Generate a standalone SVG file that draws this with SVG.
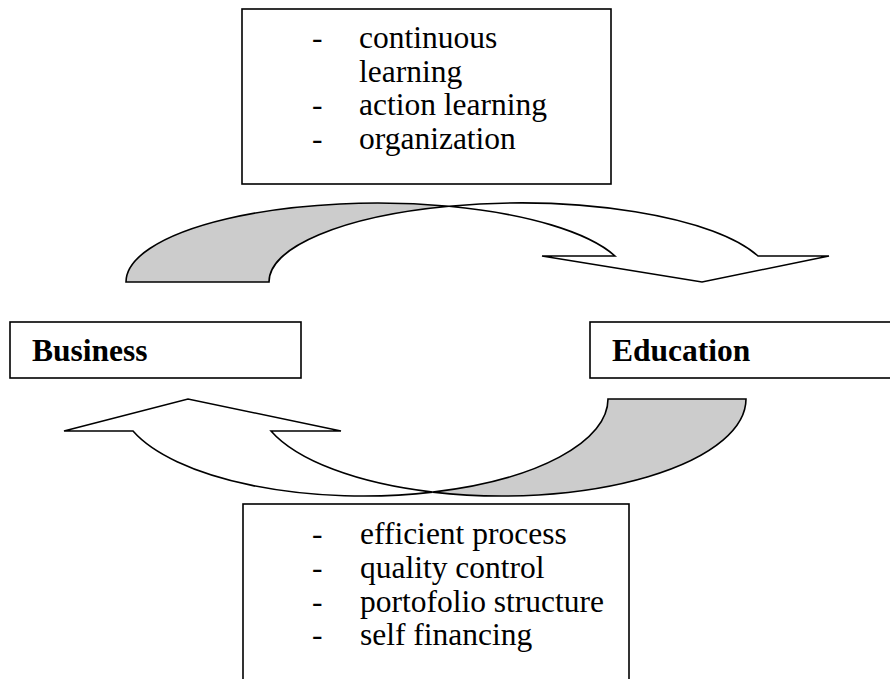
<svg xmlns="http://www.w3.org/2000/svg" width="890" height="679" viewBox="0 0 890 679">
<style>
.box{fill:#fff;stroke:#000;stroke-width:1.6}
.arrow{fill:#fff;stroke:#000;stroke-width:1.6;stroke-linejoin:miter}
.shade{fill:#cccccc;stroke:#000;stroke-width:1.6}
.list{font-family:"Liberation Serif","Times New Roman",serif;font-size:31.5px;fill:#000}
.label{font-family:"Liberation Serif","Times New Roman",serif;font-size:31.5px;font-weight:bold;fill:#000}
</style>
<rect width="890" height="679" fill="#fff"/>
<g id="connectors">
  <g id="arrow-top">
    <path class="shade" d="M126,282 A251.5,79 0 0,1 449,206.3 A251.5,79 0 0,0 269,282 Z"/>
    <path class="arrow" d="M449,206.3 A251.5,79 0 0,1 758,256 L829,256 L702,282 L542,256 L615,256 A251.5,79 0 0,0 449,206.3 Z"/>
  </g>
  <g id="arrow-bottom">
    <path class="shade" d="M608,399 L746,399 A244.3,97 0 0,1 432.7,492.1 A244.3,97 0 0,0 608,399 Z"/>
    <path class="arrow" d="M432.7,492.1 A244.3,97 0 0,1 133,431 L64,431 L188,399 L341,431 L271,431 A244.3,97 0 0,0 432.7,492.1 Z"/>
  </g>
</g>
<g id="top-box">
  <rect class="box" x="242" y="9" width="369" height="175"/>
  <text class="list" x="312" y="48">-</text>
  <text class="list" x="359" y="48">continuous</text>
  <text class="list" x="359" y="81.5">learning</text>
  <text class="list" x="312" y="115">-</text>
  <text class="list" x="359" y="115">action learning</text>
  <text class="list" x="312" y="148.5">-</text>
  <text class="list" x="359" y="148.5">organization</text>
</g>
<g id="business">
  <rect class="box" x="10" y="322" width="291" height="56"/>
  <text class="label" x="32" y="361">Business</text>
</g>
<g id="education">
  <rect class="box" x="590" y="322" width="320" height="56"/>
  <text class="label" x="612" y="361">Education</text>
</g>
<g id="bottom-box">
  <rect class="box" x="243" y="504" width="386" height="200"/>
  <text class="list" x="312" y="544">-</text>
  <text class="list" x="360" y="544">efficient process</text>
  <text class="list" x="312" y="578">-</text>
  <text class="list" x="360" y="578">quality control</text>
  <text class="list" x="312" y="611.5">-</text>
  <text class="list" x="360" y="611.5">portofolio structure</text>
  <text class="list" x="312" y="645">-</text>
  <text class="list" x="360" y="645">self financing</text>
</g>
</svg>
